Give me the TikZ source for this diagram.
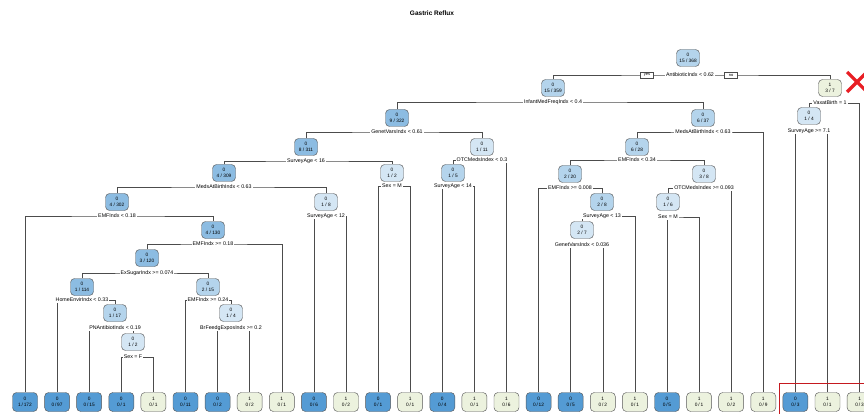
\documentclass[tikz,border=0pt]{standalone}
\usepackage{fontspec}
\setmainfont{Liberation Sans}
\begin{document}
\begin{tikzpicture}[x=1pt,y=-1pt]
\definecolor{leafc0}{RGB}{84,155,212}
\definecolor{leafc1}{RGB}{236,242,222}
\definecolor{bm}{RGB}{140,188,226}
\definecolor{bl}{RGB}{180,212,236}
\definecolor{bv}{RGB}{212,230,244}
\definecolor{gr}{RGB}{236,242,222}
\definecolor{redx}{RGB}{232,30,36}
\tikzset{
 nd/.style={draw=black!65, line width=0.45pt, rounded corners=4pt, minimum width=23pt, minimum height=17pt, inner sep=0.3pt, align=center, font=\fontsize{4.8}{5.4}\selectfont},
 leaf/.style={nd, minimum width=25pt, minimum height=19pt},
 lab/.style={inner sep=1pt, fill=white, font=\fontsize{5.3}{6}\selectfont},
 yn/.style={draw=black!70, fill=white, line width=0.4pt, inner sep=0.6pt, minimum width=13pt, minimum height=6pt, font=\fontsize{4}{4.2}\selectfont},
 br/.style={draw=black!70, line width=0.6pt},
}
\newcommand\tsplit[5]{%
 \draw[br] (#4.north) |- (#1 |- 0,#2) -| (#5.north);
 \node[lab] (#1l) at (#1 |- 0,#2) {#3};
}
\useasboundingbox (0,0) rectangle (864,414);
\fill[white] (0,0) rectangle (864,414);
\node[font=\bfseries\fontsize{6.5}{7}\selectfont] (title) at (432,13) {Gastric Reflux};

% leaves
\foreach \i/\c/\a/\b in {0/0/1/172,1/0/0/97,2/0/0/15,3/0/0/1,4/1/0/1,5/0/0/11,6/0/0/2,7/1/0/2,8/1/0/1,9/0/0/6,10/1/0/2,11/0/0/1,12/1/0/1,13/0/0/4,14/1/0/1,15/1/0/6,16/0/0/12,17/0/0/5,18/1/0/2,19/1/0/1,20/0/0/5,21/1/0/1,22/1/0/2,23/1/0/9,24/0/0/3,25/1/0/1,26/1/0/3}{
 \node[leaf, fill=leafc\c] (l\i) at ({25+32.1*\i},402) {\c\\\a\,/\,\b};
}

% internal nodes
\node[nd, fill=bl] (R) at (688,58) {0\\15 / 368};
\node[nd, fill=bl] (A) at (553,88) {0\\15 / 359};
\node[nd, fill=gr] (B) at (830,88) {1\\3 / 7};
\node[nd, fill=bm] (C) at (397,118) {0\\9 / 322};
\node[nd, fill=bl] (D) at (703,118) {0\\6 / 37};
\node[nd, fill=bm] (E) at (306,147) {0\\8 / 311};
\node[nd, fill=bv] (F) at (482,147) {0\\1 / 11};
\node[nd, fill=bl] (T) at (637,147) {0\\6 / 28};
\node[nd, fill=bm] (G) at (224,173) {0\\4 / 309};
\node[nd, fill=bv] (H) at (392,173) {0\\1 / 2};
\node[nd, fill=bl] (I) at (453,173) {0\\1 / 5};
\node[nd, fill=bl] (U) at (570,174) {0\\2 / 20};
\node[nd, fill=bv] (V) at (704,174) {0\\3 / 8};
\node[nd, fill=bm] (J) at (117,202) {0\\4 / 302};
\node[nd, fill=bv] (K) at (326,202) {0\\1 / 8};
\node[nd, fill=bl] (W) at (602,202) {0\\2 / 8};
\node[nd, fill=bv] (Y) at (668,202) {0\\1 / 6};
\node[nd, fill=bm] (L) at (213,230) {0\\4 / 130};
\node[nd, fill=bv] (X) at (582,230) {0\\2 / 7};
\node[nd, fill=bm] (M) at (147,258) {0\\3 / 120};
\node[nd, fill=bm] (N) at (82,287) {0\\1 / 114};
\node[nd, fill=bl] (O) at (208,287) {0\\2 / 15};
\node[nd, fill=bl] (P) at (115,313) {0\\1 / 17};
\node[nd, fill=bv] (S) at (231,313) {0\\1 / 4};
\node[nd, fill=bv] (Q) at (133,342) {0\\1 / 2};
\node[nd, fill=bv] (Z) at (809,116) {0\\1 / 4};

% root split with yes / no
\draw[br] (A.north) |- (R |- 0,75) -| (B.north);
\node[lab] (Rl) at (690,75) {AntibioticIndx < 0.62};
\node[yn] (yes) at (647,75) {yes};
\node[yn] (no) at (731,75) {no};

\tsplit{A}{102}{InfantMedFreqIndx < 0.4}{C}{D}
\tsplit{B}{103}{VaxatBirth = 1}{Z}{l26}
\tsplit{Z}{131}{SurveyAge >= 7.1}{l24}{l25}
\tsplit{C}{132}{GenetVarsIndx < 0.61}{E}{F}
\tsplit{D}{132}{MedsAtBirthIndx < 0.63}{T}{l23}
\tsplit{E}{161}{SurveyAge < 16}{G}{H}
\tsplit{F}{160}{OTCMedsIndex < 0.3}{I}{l15}
\tsplit{T}{160}{EMFIndx < 0.34}{U}{V}
\tsplit{G}{187}{MedsAtBirthIndx < 0.63}{J}{K}
\tsplit{H}{186}{Sex = M}{l11}{l12}
\tsplit{I}{186}{SurveyAge < 14}{l13}{l14}
\tsplit{U}{188}{EMFIndx >= 0.008}{l16}{W}
\tsplit{V}{188}{OTCMedsIndex >= 0.093}{Y}{l22}
\tsplit{J}{216}{EMFIndx < 0.18}{l0}{L}
\tsplit{K}{216}{SurveyAge < 12}{l9}{l10}
\tsplit{W}{216}{SurveyAge < 13}{X}{l19}
\tsplit{Y}{217}{Sex = M}{l20}{l21}
\tsplit{L}{244}{EMFIndx >= 0.18}{M}{l8}
\tsplit{X}{245}{GenetVarsIndx < 0.036}{l17}{l18}
\tsplit{M}{273}{ExSugarIndx >= 0.074}{N}{O}
\tsplit{N}{300}{HomeEnvirIndx < 0.33}{l1}{P}
\tsplit{O}{300}{EMFIndx >= 0.24}{l5}{S}
\tsplit{P}{328}{PNAntibiotIndx < 0.19}{l2}{Q}
\tsplit{S}{328}{BrFeedgExposIndx >= 0.2}{l6}{l7}
\tsplit{Q}{357}{Sex = F}{l3}{l4}

% red marks
\draw[redx, line width=3.2pt] (847,72) -- (867,92);
\draw[redx, line width=3.2pt] (847,92) -- (867,72);
\draw[redx!85!black, line width=0.8pt] (779,416) |- (868,383);
\end{tikzpicture}
\end{document}
